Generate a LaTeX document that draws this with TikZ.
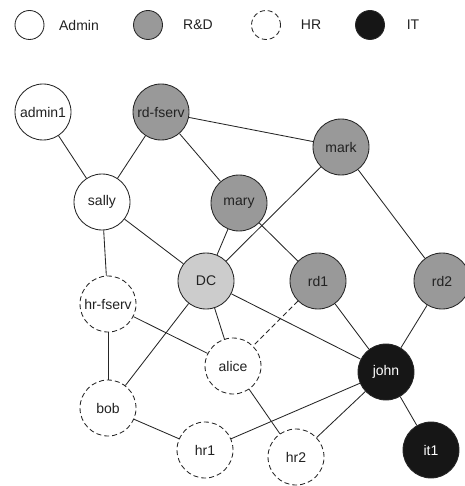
\documentclass[tikz,border=0pt]{standalone}
\usepackage{fontspec}
\setmainfont{Liberation Sans}
\usepackage{xcolor}
\definecolor{rdgray}{HTML}{999999}
\definecolor{dcgray}{HTML}{CCCCCC}
\definecolor{itblack}{HTML}{161616}
\definecolor{labelgray}{HTML}{222222}

\begin{document}
\begin{tikzpicture}[x=1pt,y=-1pt,draw=black!85,line width=0.85pt]
    \tikzstyle{every node}=[font=\fontsize{14}{16}\selectfont,text=labelgray]
    \tikzstyle{host}=[circle,fill=white,minimum size=56pt,inner sep=0pt,draw=black!85]
    \tikzstyle{admin host}=[host];
    \tikzstyle{rd host}=[host, fill=rdgray];
    \tikzstyle{hr host}=[host, dash pattern=on 5pt off 3pt];
    \tikzstyle{it host}=[host, fill=itblack, text=white];
    \tikzstyle{dc host}=[host, fill=dcgray];
    \tikzstyle{key}=[minimum size=29pt];

    \useasboundingbox (0,0) rectangle (464,486);

%    legend
	\node[admin host,key] (K-1) at (29.5,25){};
	\node (T-1) at (79,25){Admin};
	\node[rd host,key] (K-2) at (148,25){};
	\node (T-2) at (198,25){R\&D};
	\node[hr host,key] (K-3) at (266,25){};
	\node (T-3) at (311,25){HR};
	\node[it host,key] (K-4) at (370,25){};
	\node (T-4) at (413,25){IT};

%    hosts
	\node[admin host] (admin1) at (43,112) {admin1};
	\node[rd host] (rd-fserv) at (161,112) {rd-fserv};
	\node[rd host] (mark) at (341,147) {mark};
	\node[admin host] (sally) at (102,202) {sally};
	\node[rd host] (mary) at (239,203) {mary};
	\node[dc host] (DC) at (206,281) {DC};
	\node[rd host] (rd1) at (318,281) {rd1};
	\node[rd host] (rd2) at (442,281) {rd2};
	\node[hr host] (hr-fserv) at (108,304) {hr-fserv};
	\node[hr host] (alice) at (233,366) {alice};
	\node[it host] (john) at (386,372) {john};
	\node[hr host] (bob) at (108,408) {bob};
	\node[hr host] (hr1) at (205,450) {hr1};
	\node[hr host] (hr2) at (296,457) {hr2};
	\node[it host] (it1) at (431,450) {it1};

	 \path (admin1) edge (sally);
	 \path (rd-fserv) edge (sally);
	 \path (rd-fserv) edge (mary);
	 \path (rd-fserv) edge (mark);
	 \path (sally) edge (DC);
	 \path (sally) edge (hr-fserv);
	 \path (mary) edge (DC);
	 \path (mary) edge (rd1);
	 \path (mark) edge (DC);
	 \path (mark) edge (rd2);
	 \path (DC) edge (bob);
	 \path (DC) edge (alice);
	 \path (DC) edge (john);
	 \path (rd1) edge[dash pattern=on 5pt off 3pt] (alice);
	 \path (rd1) edge (john);
	 \path (rd2) edge (john);
	 \path (hr-fserv) edge (bob);
	 \path (hr-fserv) edge (alice);
	 \path (alice) edge (hr2);
	 \path (john) edge (hr1);
	 \path (john) edge (hr2);
	 \path (john) edge (it1);
	 \path (bob) edge (hr1);

\end{tikzpicture}
\end{document}
